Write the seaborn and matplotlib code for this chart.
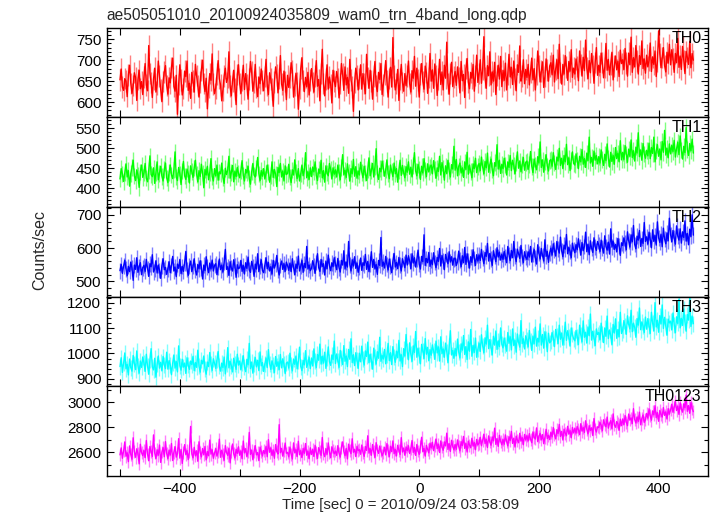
import numpy as np
import pandas as pd
import matplotlib
matplotlib.use("Agg")
import matplotlib.pyplot as plt
import seaborn as sns
from matplotlib.ticker import MultipleLocator, FuncFormatter

title = "ae505051010_20100924035809_wam0_trn_4band_long.qdp"
xlabel = "Time [sec] 0 = 2010/09/24 03:58:09"
ylabel = "Counts/sec"
band_names = ["TH0", "TH1", "TH2", "TH3", "TH0123"]
band_colors = ["#ff0000", "#00ff00", "#0000ff", "#00ffff", "#ff00ff"]
t_start = -500
t_step = 2

th0 = [
    653, 679, 636, 628, 656, 650, 613, 665, 688, 645, 621, 639, 670, 659, 604, 654, 676, 632, 649, 618,
    660, 692, 641, 627, 735, 668, 647, 611, 655, 681, 624, 643, 698, 662, 630, 601, 649, 672, 687, 640,
    619, 658, 646, 683, 705, 637, 626, 664, 571, 642, 689, 653, 617, 633, 674, 661, 698, 628, 645, 609,
    671, 650, 624, 690, 663, 639, 612, 648, 677, 700, 644, 625, 657, 584, 636, 668, 652, 715, 643, 620,
    634, 667, 699, 656, 641, 603, 629, 662, 681, 647, 658, 720, 638, 615, 650, 676, 631, 594, 666, 689,
    645, 621, 653, 688, 630, 668, 642, 607, 655, 697, 672, 626, 648, 690, 636, 613, 660, 644, 679, 652,
    627, 661, 702, 639, 618, 670, 655, 631, 590, 648, 684, 665, 622, 657, 711, 643, 628, 674, 649, 606,
    664, 635, 658, 694, 675, 612, 640, 669, 646, 583, 633, 680, 706, 651, 625, 659, 637, 671, 617, 653,
    680, 647, 624, 662, 699, 638, 654, 603, 668, 726, 644, 615, 655, 689, 631, 660, 642, 598, 676, 650,
    637, 673, 656, 610, 645, 692, 667, 628, 684, 641, 659, 621, 702, 653, 636, 578, 647, 681, 664, 629,
    656, 689, 631, 668, 645, 620, 714, 659, 633, 676, 650, 607, 662, 697, 640, 625, 671, 654, 692, 618,
    641, 666, 699, 650, 612, 657, 683, 636, 754, 662, 629, 645, 678, 604, 655, 690, 647, 626, 668, 639,
    662, 698, 644, 624, 675, 657, 709, 638, 681, 653, 612, 667, 692, 649, 631, 686, 670, 621, 659, 716,
    650, 677, 633, 691, 664, 616, 655, 702, 642, 672, 629, 688, 657, 743, 645, 619, 668, 695, 637, 660,
    673, 640, 684, 659, 622, 697, 651, 666, 611, 680, 704, 648, 632, 671, 657, 690, 626, 663, 712, 647,
    668, 701, 645, 679, 756, 658, 633, 687, 663, 720, 641, 672, 650, 695, 618, 664, 688, 655, 709, 637,
    676, 652, 693, 629, 667, 714, 660, 683, 642, 698, 655, 627, 689, 671, 734, 650, 662, 701, 644, 678,
    659, 690, 641, 672, 705, 653, 680, 629, 667, 722, 688, 648, 674, 696, 635, 661, 703, 677, 650, 686,
    694, 665, 712, 648, 679, 701, 656, 738, 670, 643, 690, 667, 711, 684, 652, 697, 674, 725, 659, 681,
    667, 703, 685, 651, 722, 690, 662, 707, 675, 748, 681, 656, 699, 670, 716, 688, 645, 695, 730, 664,
    688, 671, 717, 694, 658, 683, 740, 676, 702, 665, 691, 719, 653, 686, 710, 677, 697, 661, 724, 692,
    701, 678, 728, 693, 662, 717, 689, 755, 671, 706, 684, 735, 698, 667, 711, 690, 746, 680, 703, 669,
    712, 684, 699, 741, 673, 708, 690, 722, 661, 697, 770, 715, 682, 706, 730, 687, 672, 719, 693, 738,
    689, 725, 704, 671, 716, 694, 752, 683, 710, 678, 733, 699, 668, 721, 707, 690, 745, 682, 716, 700,
]

th1 = [
    423, 449, 436, 417, 440, 461, 428, 444, 405, 437, 452, 470, 431, 419, 446, 433, 402, 441, 458, 427,
    438, 462, 425, 416, 445, 481, 434, 429, 451, 412, 440, 466, 421, 437, 455, 430, 418, 447, 463, 426,
    414, 439, 458, 433, 424, 446, 491, 428, 419, 452, 436, 409, 443, 467, 431, 422, 448, 437, 413, 456,
    442, 427, 451, 470, 435, 416, 444, 429, 460, 438, 401, 447, 433, 455, 421, 440, 474, 430, 418, 449,
    431, 458, 420, 441, 436, 463, 427, 412, 450, 434, 446, 480, 425, 439, 457, 416, 443, 429, 452, 437,
    426, 445, 469, 432, 418, 447, 438, 455, 424, 410, 441, 462, 433, 428, 451, 477, 436, 419, 444, 430,
    449, 423, 437, 458, 441, 415, 432, 466, 427, 447, 435, 404, 452, 439, 462, 428, 443, 418, 456, 434,
    437, 460, 428, 414, 446, 433, 471, 440, 424, 449, 418, 436, 458, 431, 445, 489, 426, 441, 422, 451,
    429, 453, 441, 466, 432, 419, 448, 437, 470, 426, 444, 415, 456, 438, 431, 462, 447, 423, 451, 435,
    446, 428, 458, 439, 421, 452, 484, 433, 445, 427, 461, 440, 418, 449, 436, 472, 430, 454, 425, 443,
    433, 465, 440, 426, 455, 438, 419, 447, 476, 431, 444, 462, 428, 453, 499, 437, 422, 450, 441, 468,
    451, 430, 446, 471, 437, 424, 458, 442, 429, 463, 436, 449, 415, 445, 470, 432, 457, 438, 426, 454,
    440, 466, 435, 452, 428, 457, 489, 443, 431, 460, 447, 422, 455, 438, 474, 446, 429, 461, 441, 453,
    458, 436, 469, 447, 425, 451, 442, 480, 433, 464, 449, 420, 456, 437, 470, 444, 428, 459, 448, 505,
    445, 472, 431, 455, 463, 438, 451, 427, 466, 447, 490, 435, 458, 442, 426, 461, 449, 475, 439, 454,
    462, 444, 478, 453, 436, 467, 451, 488, 440, 459, 473, 446, 431, 464, 455, 509, 448, 470, 437, 460,
    449, 475, 458, 433, 466, 452, 482, 444, 470, 457, 436, 463, 491, 450, 468, 441, 459, 477, 445, 465,
    468, 447, 460, 492, 455, 439, 473, 458, 446, 479, 463, 516, 452, 471, 440, 466, 484, 456, 443, 469,
    472, 455, 489, 463, 447, 478, 468, 500, 457, 475, 449, 482, 466, 510, 459, 476, 444, 470, 491, 462,
    458, 486, 471, 449, 480, 466, 497, 460, 474, 452, 488, 469, 528, 463, 477, 455, 493, 470, 482, 461,
    479, 463, 496, 472, 457, 485, 469, 511, 476, 453, 490, 467, 482, 460, 502, 474, 488, 466, 519, 471,
    490, 472, 507, 485, 465, 498, 480, 521, 477, 494, 468, 503, 488, 539, 479, 496, 470, 512, 486, 475,
    495, 481, 513, 474, 502, 487, 528, 466, 493, 509, 480, 498, 471, 517, 490, 545, 483, 500, 476, 511,
    486, 508, 492, 520, 478, 499, 515, 484, 531, 496, 473, 505, 489, 552, 497, 482, 512, 494, 523, 488,
]

th2 = [
    532, 551, 524, 546, 563, 538, 517, 545, 529, 558, 540, 503, 549, 536, 571, 527, 544, 556, 520, 541,
    548, 530, 566, 539, 515, 553, 544, 580, 528, 537, 562, 525, 549, 533, 509, 547, 568, 535, 542, 521,
    537, 559, 526, 548, 575, 531, 543, 514, 552, 539, 566, 523, 545, 530, 556, 590, 536, 518, 547, 561,
    529, 545, 568, 533, 519, 551, 538, 562, 541, 507, 549, 532, 574, 543, 526, 555, 537, 564, 531, 548,
    553, 520, 542, 567, 535, 549, 528, 557, 596, 536, 544, 518, 559, 540, 531, 565, 546, 512, 550, 538,
    541, 563, 530, 548, 522, 556, 539, 573, 534, 527, 560, 545, 515, 552, 537, 583, 529, 547, 565, 533,
    526, 549, 571, 538, 557, 531, 544, 522, 563, 540, 551, 578, 535, 519, 548, 561, 536, 553, 530, 558,
    547, 533, 555, 529, 568, 542, 520, 552, 539, 576, 531, 546, 563, 527, 554, 541, 605, 537, 549, 532,
    539, 562, 548, 524, 557, 583, 541, 530, 566, 545, 553, 519, 561, 538, 579, 547, 532, 556, 544, 571,
    552, 535, 569, 541, 528, 563, 549, 592, 537, 558, 543, 620, 550, 531, 565, 546, 574, 539, 555, 527,
    544, 570, 533, 556, 548, 581, 536, 560, 529, 553, 589, 542, 566, 537, 551, 521, 563, 548, 632, 545,
    558, 540, 575, 551, 534, 567, 546, 526, 561, 584, 543, 557, 538, 572, 549, 531, 568, 554, 541, 579,
    549, 577, 561, 538, 583, 555, 571, 543, 566, 594, 552, 537, 575, 559, 640, 548, 569, 556, 587, 545,
    564, 550, 586, 557, 541, 572, 560, 599, 546, 578, 562, 535, 581, 566, 553, 589, 558, 574, 549, 568,
    570, 548, 559, 591, 565, 544, 577, 556, 602, 551, 583, 563, 540, 574, 557, 595, 569, 548, 580, 561,
    579, 563, 596, 570, 553, 587, 575, 614, 561, 584, 568, 548, 592, 576, 559, 601, 573, 588, 564, 581,
    566, 590, 574, 556, 605, 580, 562, 593, 571, 620, 577, 559, 597, 583, 569, 608, 575, 556, 589, 572,
    566, 589, 573, 605, 558, 581, 596, 570, 552, 610, 584, 567, 599, 578, 561, 625, 575, 590, 557, 586,
    600, 579, 613, 594, 576, 620, 598, 585, 633, 592, 574, 609, 597, 641, 583, 602, 590, 571, 615, 596,
    586, 611, 595, 628, 603, 579, 617, 592, 605, 648, 589, 612, 580, 622, 599, 587, 631, 604, 593, 620,
    609, 590, 624, 601, 585, 637, 605, 594, 618, 582, 658, 603, 621, 596, 611, 589, 629, 607, 578, 616,
    608, 631, 616, 595, 649, 622, 603, 640, 619, 668, 611, 598, 636, 624, 653, 605, 629, 614, 677, 620,
    634, 612, 648, 626, 601, 655, 620, 638, 609, 679, 631, 617, 642, 604, 660, 627, 613, 646, 622, 690,
    641, 619, 653, 630, 612, 667, 636, 624, 658, 615, 649, 632, 682, 621, 644, 610, 657, 635, 700, 639,
]

th3 = [
    948, 983, 925, 961, 1002, 939, 957, 915, 978, 944, 930, 992, 960, 936, 1010, 951, 922, 970, 945, 986,
    963, 929, 997, 950, 918, 976, 1019, 947, 935, 981, 906, 958, 990, 942, 965, 931, 988, 954, 940, 1005,
    938, 972, 955, 916, 961, 994, 942, 968, 927, 1030, 951, 934, 977, 946, 962, 921, 983, 953, 937, 970,
    956, 989, 932, 964, 945, 1013, 950, 926, 973, 959, 990, 939, 918, 966, 948, 1004, 957, 933, 979, 961,
    941, 975, 1008, 949, 930, 962, 944, 986, 919, 958, 1023, 943, 969, 952, 927, 981, 960, 937, 997, 954,
    970, 935, 963, 991, 946, 928, 977, 955, 1040, 940, 966, 922, 959, 984, 947, 973, 932, 1006, 951, 964,
    929, 958, 982, 944, 1015, 960, 937, 971, 953, 924, 988, 949, 967, 936, 996, 943, 979, 957, 920, 962,
    966, 942, 1001, 953, 931, 978, 957, 990, 939, 969, 1025, 948, 932, 973, 955, 1011, 945, 961, 985, 940,
    982, 951, 1018, 970, 944, 996, 973, 1037, 958, 989, 962, 1005, 941, 980, 1026, 967, 953, 994, 976, 1049,
    960, 998, 971, 945, 1012, 983, 956, 1031, 969, 990, 948, 1016, 977, 1058, 964, 995, 952, 1003, 974, 941,
    1001, 967, 1029, 979, 954, 1010, 988, 1045, 963, 997, 972, 938, 1021, 985, 958, 1007, 981, 1064, 969, 992,
    978, 1016, 959, 993, 1040, 972, 1003, 956, 1027, 987, 965, 1009, 983, 1052, 970, 995, 948, 1019, 990, 1075,
    1008, 975, 1042, 996, 969, 1030, 1004, 1087, 985, 1021, 992, 959, 1036, 1011, 980, 1059, 997, 1024, 971, 1015,
    993, 1034, 1010, 977, 1049, 1002, 1026, 970, 1066, 999, 1018, 985, 1041, 1007, 963, 1029, 1090, 994, 1012, 981,
    1020, 991, 1057, 1005, 982, 1038, 1013, 1071, 996, 1027, 976, 1046, 1009, 1095, 989, 1032, 1004, 1061, 985, 1017,
    1041, 1008, 1074, 1030, 1003, 1062, 1037, 1112, 1019, 1055, 1024, 994, 1068, 1033, 1089, 1016, 1050, 1027, 1101, 1036,
    1022, 1061, 1035, 1009, 1083, 1040, 1066, 1014, 1097, 1031, 1052, 1005, 1077, 1044, 1025, 1130, 1039, 1058, 1018, 1070,
    1053, 1026, 1091, 1048, 1012, 1069, 1038, 1104, 1029, 1060, 1045, 1117, 1033, 1075, 1021, 1086, 1056, 1007, 1080, 1042,
    1048, 1083, 1061, 1027, 1095, 1070, 1039, 1112, 1056, 1081, 1033, 1067, 1124, 1052, 1090, 1064, 1029, 1101, 1075, 1058,
    1050, 1091, 1067, 1035, 1112, 1072, 1046, 1129, 1064, 1084, 1041, 1105, 1070, 1156, 1053, 1088, 1062, 1031, 1097, 1075,
    1083, 1054, 1120, 1076, 1043, 1101, 1068, 1148, 1059, 1093, 1072, 1034, 1115, 1081, 1137, 1060, 1095, 1066, 1163, 1079,
    1091, 1130, 1108, 1076, 1149, 1115, 1097, 1171, 1086, 1120, 1103, 1064, 1138, 1112, 1180, 1094, 1125, 1109, 1083, 1144,
    1096, 1138, 1110, 1079, 1163, 1120, 1089, 1201, 1105, 1131, 1084, 1150, 1117, 1192, 1099, 1143, 1108, 1072, 1136, 1121,
    1128, 1093, 1160, 1114, 1082, 1145, 1119, 1215, 1101, 1139, 1111, 1176, 1125, 1088, 1154, 1132, 1222, 1107, 1148, 1118,
]

th0123 = [
    2578, 2634, 2551, 2609, 2682, 2567, 2595, 2524, 2650, 2581, 2543, 2715, 2603, 2559, 2627, 2588, 2506, 2663, 2596, 2572,
    2614, 2556, 2693, 2585, 2531, 2645, 2604, 2566, 2738, 2593, 2549, 2619, 2575, 2657, 2518, 2601, 2636, 2563, 2684, 2590,
    2549, 2617, 2577, 2669, 2533, 2600, 2644, 2560, 2589, 2708, 2552, 2622, 2510, 2595, 2660, 2579, 2612, 2540, 2603, 2806,
    2586, 2554, 2639, 2570, 2611, 2527, 2683, 2597, 2562, 2629, 2580, 2646, 2538, 2605, 2571, 2697, 2584, 2619, 2551, 2593,
    2628, 2568, 2601, 2704, 2559, 2616, 2583, 2535, 2652, 2596, 2574, 2632, 2514, 2608, 2665, 2587, 2553, 2623, 2590, 2643,
    2575, 2610, 2547, 2689, 2594, 2628, 2563, 2602, 2758, 2582, 2617, 2539, 2606, 2652, 2578, 2597, 2532, 2640, 2607, 2569,
    2613, 2587, 2647, 2563, 2700, 2599, 2634, 2573, 2618, 2551, 2661, 2604, 2585, 2820, 2595, 2630, 2568, 2609, 2673, 2591,
    2598, 2562, 2641, 2584, 2545, 2674, 2594, 2621, 2564, 2687, 2579, 2612, 2556, 2630, 2591, 2669, 2575, 2608, 2547, 2635,
    2581, 2622, 2566, 2655, 2596, 2550, 2636, 2608, 2573, 2717, 2592, 2564, 2629, 2583, 2674, 2600, 2555, 2643, 2612, 2587,
    2609, 2574, 2652, 2593, 2560, 2639, 2682, 2605, 2571, 2630, 2546, 2664, 2611, 2588, 2707, 2599, 2623, 2565, 2647, 2612,
    2620, 2583, 2657, 2600, 2566, 2645, 2614, 2731, 2592, 2628, 2575, 2661, 2603, 2558, 2676, 2617, 2590, 2649, 2609, 2571,
    2596, 2639, 2578, 2668, 2611, 2563, 2647, 2604, 2690, 2587, 2622, 2570, 2655, 2616, 2581, 2716, 2601, 2633, 2575, 2642,
    2612, 2651, 2589, 2627, 2693, 2598, 2636, 2574, 2661, 2609, 2582, 2645, 2719, 2603, 2630, 2568, 2654, 2621, 2594, 2672,
    2633, 2679, 2612, 2656, 2705, 2628, 2664, 2597, 2690, 2641, 2615, 2682, 2650, 2752, 2622, 2668, 2606, 2695, 2647, 2618,
    2661, 2623, 2698, 2645, 2610, 2684, 2652, 2726, 2630, 2670, 2601, 2688, 2656, 2635, 2711, 2648, 2677, 2619, 2702, 2658,
    2672, 2719, 2651, 2695, 2744, 2668, 2703, 2637, 2730, 2681, 2655, 2722, 2690, 2792, 2662, 2708, 2646, 2735, 2687, 2659,
    2701, 2663, 2738, 2685, 2650, 2724, 2692, 2766, 2670, 2710, 2641, 2728, 2696, 2675, 2751, 2688, 2717, 2659, 2742, 2698,
    2731, 2690, 2748, 2703, 2676, 2762, 2719, 2705, 2794, 2684, 2727, 2751, 2698, 2741, 2668, 2716, 2783, 2709, 2735, 2700,
    2760, 2722, 2797, 2741, 2706, 2780, 2748, 2822, 2726, 2766, 2697, 2784, 2752, 2731, 2807, 2744, 2773, 2715, 2798, 2754,
    2790, 2752, 2806, 2779, 2740, 2828, 2768, 2797, 2758, 2851, 2783, 2746, 2812, 2774, 2795, 2733, 2869, 2786, 2761, 2803,
    2797, 2838, 2815, 2771, 2859, 2824, 2803, 2881, 2792, 2830, 2852, 2786, 2906, 2818, 2799, 2845, 2827, 2775, 2864, 2812,
    2866, 2821, 2893, 2840, 2812, 2905, 2857, 2874, 2829, 2948, 2861, 2833, 2882, 2846, 2920, 2819, 2870, 2898, 2838, 2859,
    2910, 2872, 2947, 2891, 2856, 2930, 2898, 2972, 2876, 2916, 2847, 2934, 2902, 2881, 2957, 2894, 2923, 2865, 2948, 2904,
    2938, 2984, 2919, 2961, 3009, 2933, 2968, 2902, 2995, 2946, 2920, 2987, 2955, 3057, 2927, 2973, 2911, 3000, 2952, 2924,
]

band_values = [th0, th1, th2, th3, th0123]
band_errors = [25.5, 20.8, 23.5, 31.6, 51.0]
y_limits = [(564, 778), (353, 578), (454, 724), (870, 1225), (2409, 3127)]
y_major = [50, 50, 100, 100, 200]
y_minor = [10, 10, 20, 20, 100]
x_limits = (-522, 482)
x_tick_step = 100
x_label_step = 200

sns.set_style("ticks")
plt.rcParams["font.family"] = ["Liberation Sans", "DejaVu Sans"]
plt.rcParams["axes.unicode_minus"] = True

fig, axes = plt.subplots(5, 1, figsize=(7.17, 5.16), dpi=100, sharex=True)
fig.subplots_adjust(left=0.149, right=0.987, top=0.9467, bottom=0.0775, hspace=0)


def xfmt(v, pos):
    iv = int(round(v))
    if iv % x_label_step == 0:
        return f"{iv}".replace("-", "\u2212")
    return ""


for i, ax in enumerate(axes):
    vals = np.asarray(band_values[i], dtype=float)
    t = t_start + t_step * np.arange(len(vals))
    err = band_errors[i]
    color = band_colors[i]
    df = pd.DataFrame({"t": t, "rate": vals})
    ax.vlines(df["t"], df["rate"] - err, df["rate"] + err, colors=color,
              alpha=0.5, linewidth=1.0)
    sns.lineplot(data=df, x="t", y="rate", color=color, linewidth=1.0,
                 estimator=None, sort=False, ax=ax)
    ax.set_xlim(*x_limits)
    ax.set_ylim(*y_limits[i])
    ax.set_xlabel("")
    ax.set_ylabel("")
    ax.xaxis.set_major_locator(MultipleLocator(x_tick_step))
    ax.xaxis.set_major_formatter(FuncFormatter(xfmt))
    ax.yaxis.set_major_locator(MultipleLocator(y_major[i]))
    ax.yaxis.set_minor_locator(MultipleLocator(y_minor[i]))
    ax.tick_params(axis="both", which="both", direction="in", top=True,
                   right=True, colors="black", labelsize=11, width=0.8)
    ax.tick_params(axis="both", which="major", length=5, pad=4)
    ax.tick_params(axis="both", which="minor", length=3)
    for sp in ax.spines.values():
        sp.set_visible(True)
        sp.set_color("black")
        sp.set_linewidth(1.0)
    ax.text(0.99, 0.965, band_names[i], transform=ax.transAxes,
            ha="right", va="top", fontsize=11.5, color="black")
    if i < len(axes) - 1:
        ax.tick_params(axis="x", labelbottom=False)

fig.text(0.149, 1 - 20 / 516, title, ha="left", va="baseline", fontsize=11.2)
fig.text(40 / 717, 1 - 250 / 516, ylabel, rotation=90, ha="center",
         va="center", fontsize=11.5)
fig.text(401 / 717, 1 - 505 / 516, xlabel, ha="center", va="center",
         fontsize=10.8)

fig.savefig("out.png", dpi=100)
